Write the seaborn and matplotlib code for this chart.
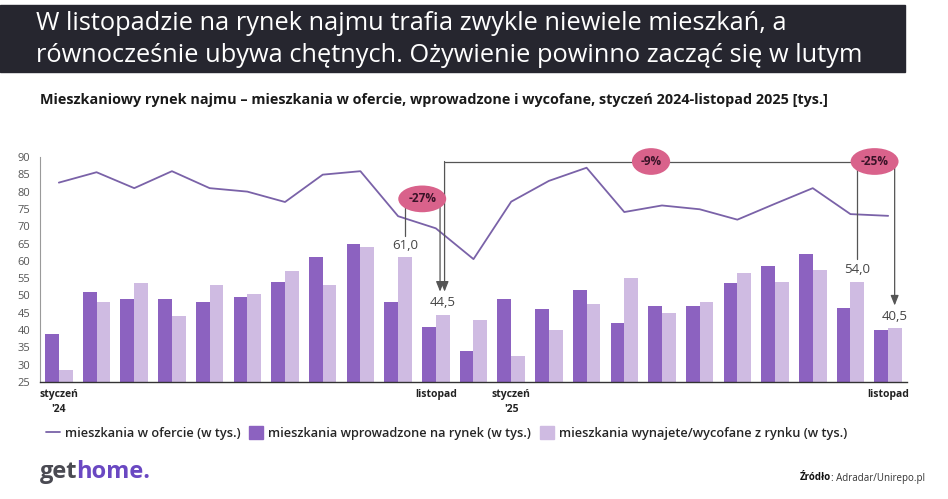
import numpy as np
import pandas as pd
import matplotlib.pyplot as plt
import seaborn as sns
from matplotlib.lines import Line2D
from matplotlib.patches import Patch, Rectangle

# ── DATA ────────────────────────────────────────────────────
months = ["2024-01", "2024-02", "2024-03", "2024-04", "2024-05", "2024-06",
          "2024-07", "2024-08", "2024-09", "2024-10", "2024-11", "2024-12",
          "2025-01", "2025-02", "2025-03", "2025-04", "2025-05", "2025-06",
          "2025-07", "2025-08", "2025-09", "2025-10", "2025-11"]
w_ofercie = [82.6, 85.6, 81.0, 85.9, 81.0, 80.0, 77.0, 84.9, 85.9, 72.9, 69.4, 60.5,
             77.1, 83.1, 86.9, 74.1, 76.0, 74.9, 71.9, 76.5, 81.0, 73.5, 73.0]
wprowadzone = [39, 51, 49, 49, 48, 49.5, 54, 61, 65, 48, 41, 34,
               49, 46, 51.5, 42, 47, 47, 53.5, 58.5, 62, 46.5, 40]
wycofane = [28.5, 48, 53.5, 44, 53, 50.5, 57, 53, 64, 61, 44.5, 43,
            32.5, 40, 47.5, 55, 45, 48, 56.5, 54, 57.5, 54, 40.5]
tick_pos = [0, 10, 12, 22]
tick_labels = ["styczeń\n'24", "listopad", "styczeń\n'25", "listopad"]
labelled = [9, 10, 21, 22]  # wycofane values with labels

s_line = "mieszkania w ofercie (w tys.)"
s_in = "mieszkania wprowadzone na rynek (w tys.)"
s_out = "mieszkania wynajete/wycofane z rynku (w tys.)"

c_line = "#7a62a8"
c_in = "#8c62c0"
c_out = "#cfbbe2"
c_pill = "#d9628b"
c_arrow = "#555555"

sns.set_theme(style="white")
plt.rcParams["font.family"] = ["Open Sans", "DejaVu Sans"]

df = pd.DataFrame({
    "month": months * 2,
    "value": wprowadzone + wycofane,
    "series": [s_in] * len(months) + [s_out] * len(months),
})

fig = plt.figure(figsize=(9.48, 4.99), dpi=100)
ax = fig.add_axes([40 / 948, 1 - 382 / 499, 867 / 948, 225 / 499])

sns.barplot(data=df, x="month", y="value", hue="series", order=months,
            palette=[c_in, c_out], width=0.73, saturation=1, ax=ax,
            legend=False, linewidth=0)
sns.lineplot(x=np.arange(len(months)), y=w_ofercie, color=c_line, lw=1.3, ax=ax)

ax.set_xlim(-0.5, len(months) - 0.5)
ax.set_ylim(25, 90)
ax.set_yticks(range(25, 91, 5))
ax.tick_params(axis="y", labelsize=8, labelcolor="#555555", length=0, pad=7)
ax.set_xticks(tick_pos)
ax.set_xticklabels(tick_labels, fontsize=7.5, fontweight="bold", color="#222222",
                   linespacing=1.55)
ax.tick_params(axis="x", length=0, pad=5)
ax.set_xlabel("")
ax.set_ylabel("")
for side in ["top", "right"]:
    ax.spines[side].set_visible(False)
ax.spines["left"].set_color("#9a9a9a")
ax.spines["left"].set_linewidth(0.8)
ax.spines["bottom"].set_color("#333333")
ax.spines["bottom"].set_linewidth(1.0)

# value labels
off = 0.73 / 4
for i in labelled:
    ax.annotate(f"{wycofane[i]:.1f}".replace(".", ","), (i + off, wycofane[i]),
                xytext=(0, 4), textcoords="offset points", ha="center",
                va="bottom", fontsize=9.5, color="#444444")

# brackets and arrows
def vline(x, y0, y1):
    ax.plot([x, x], [y0, y1], color=c_arrow, lw=0.9, clip_on=False, zorder=5)

def arrow(x, y0, y1):
    ax.annotate("", xy=(x, y1), xytext=(x, y0),
                arrowprops=dict(arrowstyle="-|>,head_length=0.5,head_width=0.2",
                                color=c_arrow, lw=0.9, shrinkA=0, shrinkB=0),
                annotation_clip=False, zorder=5)

y_top = 88.7
vline(9 + off, 77.9, 67.3)
arrow(10 + off - 0.07, 77.9, 51.1)
arrow(10 + off + 0.05, y_top, 51.1)
ax.plot([10 + off + 0.05, 22 + off - 0.01], [y_top, y_top], color=c_arrow,
        lw=0.9, clip_on=False, zorder=5)
arrow(22 + off - 0.01, y_top, 47.1)
vline(21 + off, y_top, 60.5)

def pill(x, y, txt):
    ax.text(x, y, txt, ha="center", va="center", fontsize=8.5, fontweight="bold",
            color="#3a1328", zorder=7,
            bbox=dict(boxstyle="ellipse,pad=0.25", fc=c_pill, ec="none"))

pill(9.64, 77.9, "-27%")
pill(15.71, y_top, "-9%")
pill(21.64, y_top, "-25%")

# legend
handles = [Line2D([0], [0], color=c_line, lw=1.3),
           Patch(color=c_in), Patch(color=c_out)]
fig.legend(handles, [s_line, s_in, s_out], loc="center left",
           bbox_to_anchor=(34 / 948, 1 - 433 / 499), ncol=3, frameon=False,
           prop=dict(size=9.2, weight="semibold"), handlelength=1.1,
           handleheight=1.1, handletextpad=0.4, columnspacing=0.7)

# header
fig.patches.append(Rectangle((0, 1 - 72 / 499), 905 / 948, 67 / 499,
                             transform=fig.transFigure, color="#26262f", zorder=0))
fig.text(36 / 948, 1 - 24 / 499, "W listopadzie na rynek najmu trafia zwykle niewiele mieszkań, a",
         color="white", fontsize=18.3, va="center", ha="left")
fig.text(36 / 948, 1 - 56 / 499, "równocześnie ubywa chętnych. Ożywienie powinno zacząć się w lutym",
         color="white", fontsize=18.3, va="center", ha="left")
fig.text(40 / 948, 1 - 100 / 499,
         "Mieszkaniowy rynek najmu – mieszkania w ofercie, wprowadzone i wycofane, styczeń 2024-listopad 2025 [tys.]",
         color="#1a1a1a", fontsize=10.4, fontweight="bold", va="center", ha="left")

# footer (pieces placed next to each other by measured width)
fig.canvas.draw()
r = fig.canvas.get_renderer()
t_get = fig.text(40 / 948, 1 - 472 / 499, "get", color="#4a4a52", fontsize=17,
                 fontweight="bold", va="center", ha="left")
w = t_get.get_window_extent(r).width
fig.text((40 + w - 1) / 948, 1 - 472 / 499, "home.", color="#6a48c2", fontsize=17,
         fontweight="bold", va="center", ha="left")
t_src = fig.text(925 / 948, 1 - 478 / 499, ": Adradar/Unirepo.pl", color="#333333",
                 fontsize=7, va="center", ha="right")
w = t_src.get_window_extent(r).width
fig.text((925 - w) / 948, 1 - 478 / 499, "Źródło", color="#111111", fontsize=7,
         fontweight="bold", va="center", ha="right")

fig.savefig("out.png", dpi=100)
